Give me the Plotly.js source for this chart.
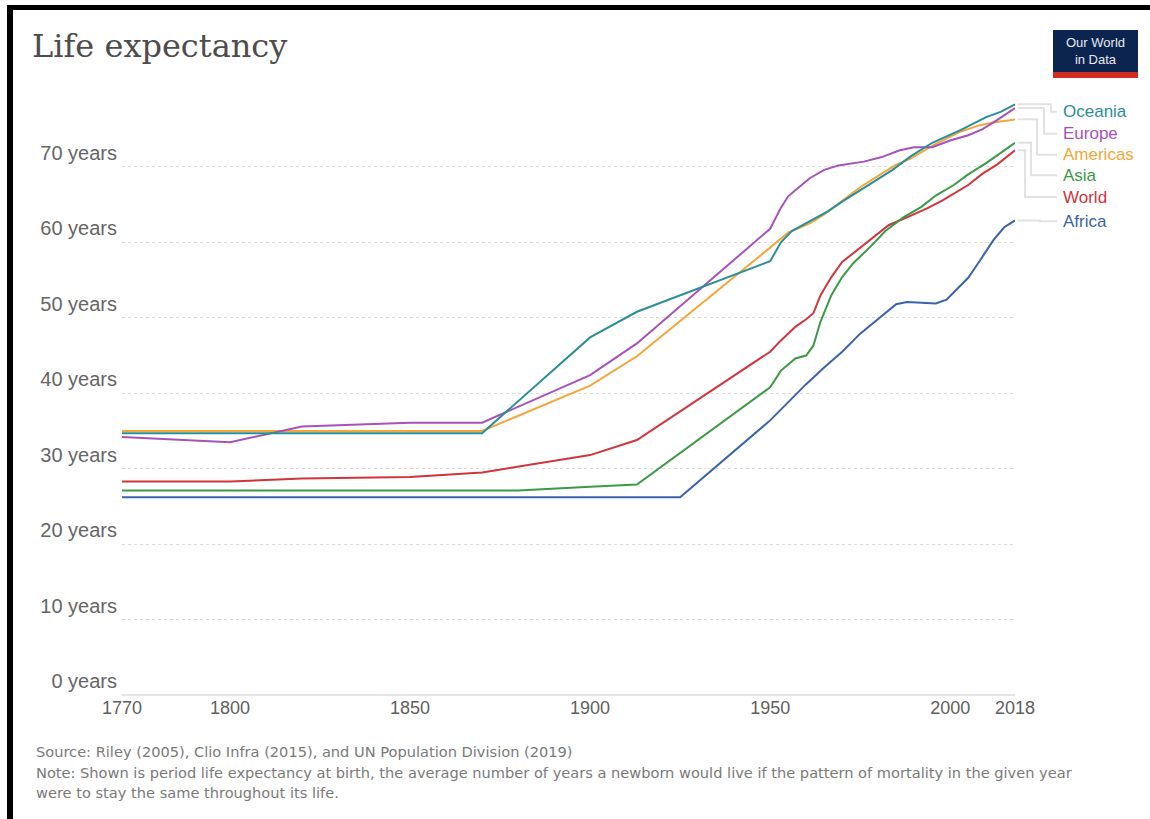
<!DOCTYPE html>
<html>
<head>
<meta charset="utf-8">
<script src="https://cdn.plot.ly/plotly-3.0.1.min.js"></script>
<style>
  html, body { margin: 0; padding: 0; background: #fff; }
  #chart { position: absolute; left: 0; top: 0; width: 1150px; height: 819px; }
  .bar { position: absolute; background: #000; }
</style>
</head>
<body>
<div id="chart"></div>
<div class="bar" style="left:7px; top:5px; width:1143px; height:5px;"></div>
<div class="bar" style="left:7px; top:5px; width:6px; height:814px;"></div>
<script>
// ---- Data ----
const seriesNames = ["Oceania", "Europe", "Americas", "Asia", "World", "Africa"];

const oceaniaYears  = [1770, 1800, 1850, 1870, 1900, 1913, 1950, 1953, 1956, 1961, 1966, 1970, 1975, 1980, 1984, 1989, 1995, 2003, 2010, 2014, 2018];
const oceaniaValues = [34.7, 34.7, 34.7, 34.7, 47.4, 50.8, 57.5, 60.0, 61.5, 62.8, 64.1, 65.4, 66.9, 68.4, 69.6, 71.4, 73.2, 74.9, 76.6, 77.3, 78.3];

const europeYears  = [1770, 1800, 1820, 1850, 1870, 1900, 1913, 1950, 1953, 1955, 1958, 1961, 1965, 1969, 1976, 1981, 1986, 1990, 1995, 2000, 2005, 2009, 2013, 2018];
const europeValues = [34.2, 33.5, 35.6, 36.1, 36.1, 42.4, 46.6, 61.8, 64.6, 66.1, 67.3, 68.5, 69.6, 70.2, 70.7, 71.3, 72.2, 72.6, 72.6, 73.5, 74.2, 75.0, 76.2, 77.8];

const americasYears  = [1770, 1800, 1830, 1850, 1870, 1900, 1913, 1950, 1955, 1961, 1965, 1970, 1975, 1980, 1985, 1989, 1995, 2000, 2003, 2008, 2012, 2018];
const americasValues = [35.0, 35.0, 35.0, 35.0, 35.0, 41.0, 44.9, 59.3, 61.3, 62.5, 63.7, 65.5, 67.3, 68.8, 70.3, 71.1, 72.8, 74.0, 74.7, 75.5, 75.9, 76.3];

const asiaYears  = [1770, 1800, 1820, 1850, 1870, 1880, 1900, 1913, 1950, 1953, 1957, 1960, 1962, 1964, 1967, 1970, 1973, 1978, 1982, 1987, 1992, 1996, 2001, 2005, 2010, 2014, 2018];
const asiaValues = [27.1, 27.1, 27.1, 27.1, 27.1, 27.1, 27.6, 27.9, 40.8, 43.0, 44.6, 45.0, 46.3, 49.5, 53.0, 55.4, 57.2, 59.5, 61.5, 63.3, 64.7, 66.2, 67.6, 69.0, 70.5, 71.8, 73.2];

const worldYears  = [1770, 1800, 1820, 1850, 1870, 1900, 1913, 1950, 1953, 1957, 1960, 1962, 1964, 1967, 1970, 1975, 1979, 1983, 1988, 1994, 1998, 2001, 2005, 2009, 2013, 2018];
const worldValues = [28.3, 28.3, 28.7, 28.9, 29.5, 31.8, 33.8, 45.5, 47.0, 48.8, 49.8, 50.6, 53.0, 55.4, 57.4, 59.3, 60.7, 62.3, 63.3, 64.6, 65.6, 66.5, 67.6, 69.1, 70.3, 72.2];

const africaYears  = [1770, 1800, 1820, 1850, 1870, 1900, 1913, 1925, 1950, 1955, 1960, 1965, 1970, 1975, 1980, 1985, 1988, 1992, 1996, 1999, 2002, 2005, 2008, 2012, 2015, 2018];
const africaValues = [26.2, 26.2, 26.2, 26.2, 26.2, 26.2, 26.2, 26.2, 36.4, 38.8, 41.2, 43.4, 45.5, 47.9, 49.8, 51.8, 52.1, 52.0, 51.9, 52.4, 53.8, 55.3, 57.4, 60.3, 62.0, 62.9];

const xTickVals = [1770, 1800, 1850, 1900, 1950, 2000, 2018];
const xTickText = ["1770", "1800", "1850", "1900", "1950", "2000", "2018"];
const yTickVals = [0, 10, 20, 30, 40, 50, 60, 70];
const yTickText = ["0 years", "10 years", "20 years", "30 years", "40 years", "50 years", "60 years", "70 years"];

// ---- Styling ----
const colors = {
  Oceania: "#2a8e98", Europe: "#a652ba", Americas: "#f5a53a",
  Asia: "#3a9a45", World: "#d1343b", Africa: "#3a63ab"
};
const seriesData = {
  Oceania: [oceaniaYears, oceaniaValues],
  Europe: [europeYears, europeValues],
  Americas: [americasYears, americasValues],
  Asia: [asiaYears, asiaValues],
  World: [worldYears, worldValues],
  Africa: [africaYears, africaValues]
};
// label positions (data units) and connector elbow positions (pixels)
const labelY = { Oceania: 77.3, Europe: 74.4, Americas: 71.6, Asia: 68.9, World: 66.0, Africa: 62.8 };
const elbowPx = { Oceania: 1051, Europe: 1044, Americas: 1037, Asia: 1031, World: 1025, Africa: 1040 };

const W = 1150, H = 819;
const plotL = 122, plotR = 1015, plotT = 99, plotB = 695;
const px2px = x => (x - plotL) / (plotR - plotL);
const py2py = y => (plotB - y) / (plotB - plotT);

const drawOrder = ["Africa", "World", "Asia", "Americas", "Europe", "Oceania"];
const traces = drawOrder.map(name => ({
  type: "scatter", mode: "lines", name: name,
  x: seriesData[name][0], y: seriesData[name][1],
  line: { color: colors[name], width: 2 },
  hoverinfo: "skip", cliponaxis: false
}));

const shapes = [];
const annotations = [];
seriesNames.forEach(name => {
  const vals = seriesData[name][1];
  const endV = vals[vals.length - 1];
  const ly = labelY[name];
  const x0 = px2px(1018), xe = px2px(elbowPx[name]), x1 = px2px(1057);
  shapes.push({
    type: "path", xref: "paper", yref: "y",
    path: `M ${x0} ${endV} L ${xe} ${endV} L ${xe} ${ly} L ${x1} ${ly}`,
    line: { color: "#e2e2e2", width: 2 }
  });
  annotations.push({
    xref: "paper", yref: "y", x: px2px(1061), y: ly, xanchor: "left", yanchor: "middle",
    text: name, showarrow: false,
    font: { family: "Liberation Sans, Arial, sans-serif", size: 17, color: colors[name] }
  });
});

// Logo
shapes.push({ type: "rect", xref: "paper", yref: "paper", x0: px2px(1053), x1: px2px(1138), y0: py2py(72), y1: py2py(30), fillcolor: "#0c2550", line: { width: 0 } });
shapes.push({ type: "rect", xref: "paper", yref: "paper", x0: px2px(1053), x1: px2px(1138), y0: py2py(78), y1: py2py(72), fillcolor: "#d42b21", line: { width: 0 } });
annotations.push({
  xref: "paper", yref: "paper", x: px2px(1095.5), y: py2py(51), xanchor: "center", yanchor: "middle",
  text: "Our World<br>in Data", showarrow: false, align: "center",
  font: { family: "Liberation Sans, Arial, sans-serif", size: 13, color: "#e6e9ef" }
});

// Footer
const footFont = { family: "DejaVu Sans, sans-serif", size: 14.6, color: "#7a7a7a" };
[
  ["Source: Riley (2005), Clio Infra (2015), and UN Population Division (2019)", 752],
  ["Note: Shown is period life expectancy at birth, the average number of years a newborn would live if the pattern of mortality in the given year", 772],
  ["were to stay the same throughout its life.", 792]
].forEach(([t, y]) => annotations.push({
  xref: "paper", yref: "paper", x: px2px(34), y: py2py(y), xanchor: "left", yanchor: "middle",
  text: t, showarrow: false, font: footFont
}));

const layout = {
  width: W, height: H,
  margin: { l: plotL, r: W - plotR, t: plotT, b: H - plotB, pad: 0 },
  paper_bgcolor: "#ffffff", plot_bgcolor: "#ffffff",
  showlegend: false,
  title: {
    text: "Life expectancy", xref: "container", yref: "container",
    x: 32 / W, xanchor: "left", y: 1 - 46 / H, yanchor: "middle",
    font: { family: "DejaVu Serif, serif", size: 32, color: "#4d4d4d" }
  },
  xaxis: {
    range: [1770, 2018], tickvals: xTickVals, ticktext: xTickText,
    showgrid: false, zeroline: false, showline: false, ticks: "",
    tickfont: { family: "Liberation Sans, Arial, sans-serif", size: 18, color: "#5f5f5f" },
    fixedrange: true
  },
  yaxis: {
    range: [0, 79], tickvals: yTickVals, ticktext: yTickText,
    showgrid: true, griddash: "dot", gridcolor: "#dcdcdc", gridwidth: 1,
    zeroline: true, zerolinecolor: "#e4e4e4", zerolinewidth: 2,
    showline: false, ticks: "", ticklabelposition: "outside top", ticklabelstandoff: 4,
    tickfont: { family: "Liberation Sans, Arial, sans-serif", size: 20, color: "#666666" },
    fixedrange: true
  },
  shapes: shapes,
  annotations: annotations
};

Plotly.newPlot("chart", traces, layout, { displayModeBar: false, staticPlot: true });
</script>
</body>
</html>
